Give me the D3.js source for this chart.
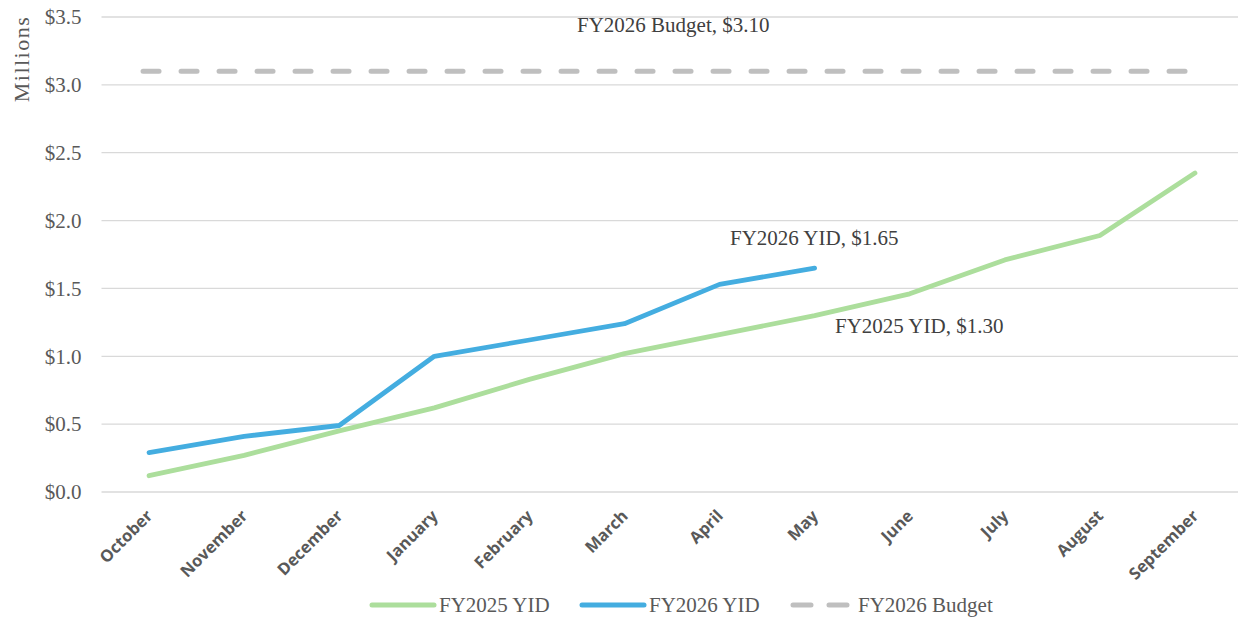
<!DOCTYPE html>
<html>
<head>
<meta charset="utf-8">
<script src="https://cdn.jsdelivr.net/npm/d3@7"></script>
<style>
  body { margin: 0; background: #fff; }
</style>
</head>
<body>
<div id="chart"></div>
<script>
// Data
const months = ["October", "November", "December", "January", "February", "March",
                "April", "May", "June", "July", "August", "September"];
const fy2025 = [0.12, 0.27, 0.45, 0.62, 0.83, 1.02, 1.16, 1.30, 1.46, 1.71, 1.89, 2.35];
const fy2026 = [0.29, 0.41, 0.49, 1.00, 1.12, 1.24, 1.53, 1.65];
const budget = 3.10;
const yTicks = [0, 0.5, 1.0, 1.5, 2.0, 2.5, 3.0, 3.5];

// Layout
const W = 1238, H = 620;
const plotLeft = 101.5, plotRight = 1242.5, plotTop = 17, plotBottom = 492;
const serif = "'Liberation Serif', 'Times New Roman', serif";

const svg = d3.select("#chart").append("svg")
    .attr("width", W).attr("height", H)
    .style("font-family", serif);

const x = d3.scalePoint().domain(months).range([plotLeft, plotRight]).padding(0.5);
const y = d3.scaleLinear().domain([0, 3.5]).range([plotBottom, plotTop]);

// Gridlines
svg.append("g")
    .selectAll("line")
    .data(yTicks)
    .join("line")
    .attr("x1", plotLeft).attr("x2", W)
    .attr("y1", d => y(d)).attr("y2", d => y(d))
    .attr("stroke", "#d9d9d9").attr("stroke-width", 1.3);

// Y axis labels
const yAxis = svg.append("g")
    .attr("transform", `translate(${plotLeft - 20},0)`)
    .call(d3.axisLeft(y).tickValues(yTicks).tickSize(0).tickPadding(0)
        .tickFormat(d => "$" + d3.format(".1f")(d)));
yAxis.select(".domain").remove();
yAxis.selectAll("text")
    .style("font-family", serif)
    .style("font-size", "21px")
    .attr("fill", "#595959");

svg.append("text")
    .attr("transform", `translate(29,59) rotate(-90)`)
    .attr("text-anchor", "middle")
    .style("font-size", "22px")
    .style("letter-spacing", "1.5px")
    .attr("fill", "#595959")
    .text("Millions");

// X axis labels
const xAxis = svg.append("g")
    .attr("transform", `translate(0,${plotBottom})`)
    .call(d3.axisBottom(x).tickSize(0).tickPadding(0));
xAxis.select(".domain").remove();
xAxis.selectAll("text")
    .style("font-family", "'Open Sans', sans-serif")
    .style("font-weight", "bold")
    .style("font-size", "16.5px")
    .attr("fill", "#595959")
    .attr("text-anchor", "end")
    .attr("y", 0)
    .attr("dy", null)
    .attr("transform", "translate(4,25) rotate(-45)");

// Lines
const line = d3.line()
    .x((d, i) => x(months[i]))
    .y(d => y(d));

svg.append("path")
    .datum(fy2025)
    .attr("d", line)
    .attr("fill", "none")
    .attr("stroke", "#acde9c")
    .attr("stroke-width", 4.8)
    .attr("stroke-linecap", "round")
    .attr("stroke-linejoin", "round");

svg.append("path")
    .datum(fy2026)
    .attr("d", line)
    .attr("fill", "none")
    .attr("stroke", "#44ade0")
    .attr("stroke-width", 4.8)
    .attr("stroke-linecap", "round")
    .attr("stroke-linejoin", "round");

svg.append("line")
    .attr("x1", x(months[0]) - 6).attr("x2", x(months[11]))
    .attr("y1", y(budget)).attr("y2", y(budget))
    .attr("stroke", "#bfbfbf")
    .attr("stroke-width", 5)
    .attr("stroke-linecap", "round")
    .attr("stroke-dasharray", "16,22");

// Data labels
const labelData = [
    { text: "FY2026 Budget, $3.10", x: 577, y: y(budget) - 39 },
    { text: "FY2026 YID, $1.65", x: 730, y: y(fy2026[7]) - 23 },
    { text: "FY2025 YID, $1.30", x: 835, y: y(fy2025[7]) + 17 }
];
svg.append("g")
    .selectAll("text")
    .data(labelData)
    .join("text")
    .attr("x", d => d.x).attr("y", d => d.y)
    .style("font-size", "21px")
    .attr("fill", "#404040")
    .text(d => d.text);

// Legend
const legend = svg.append("g").attr("transform", "translate(0,605)");
const legendItems = [
    { name: "FY2025 YID", color: "#acde9c", x1: 372, x2: 434, dash: null },
    { name: "FY2026 YID", color: "#44ade0", x1: 582, x2: 644, dash: null },
    { name: "FY2026 Budget", color: "#bfbfbf", x1: 793, x2: 853, dash: "18,18" }
];
legendItems.forEach(d => {
    legend.append("line")
        .attr("x1", d.x1).attr("x2", d.x2)
        .attr("y1", 0).attr("y2", 0)
        .attr("stroke", d.color)
        .attr("stroke-width", 5)
        .attr("stroke-linecap", "round")
        .attr("stroke-dasharray", d.dash);
    legend.append("text")
        .attr("x", d.x2 + 5)
        .attr("y", 7)
        .style("font-size", "21px")
        .attr("fill", "#595959")
        .text(d.name);
});
</script>
</body>
</html>
